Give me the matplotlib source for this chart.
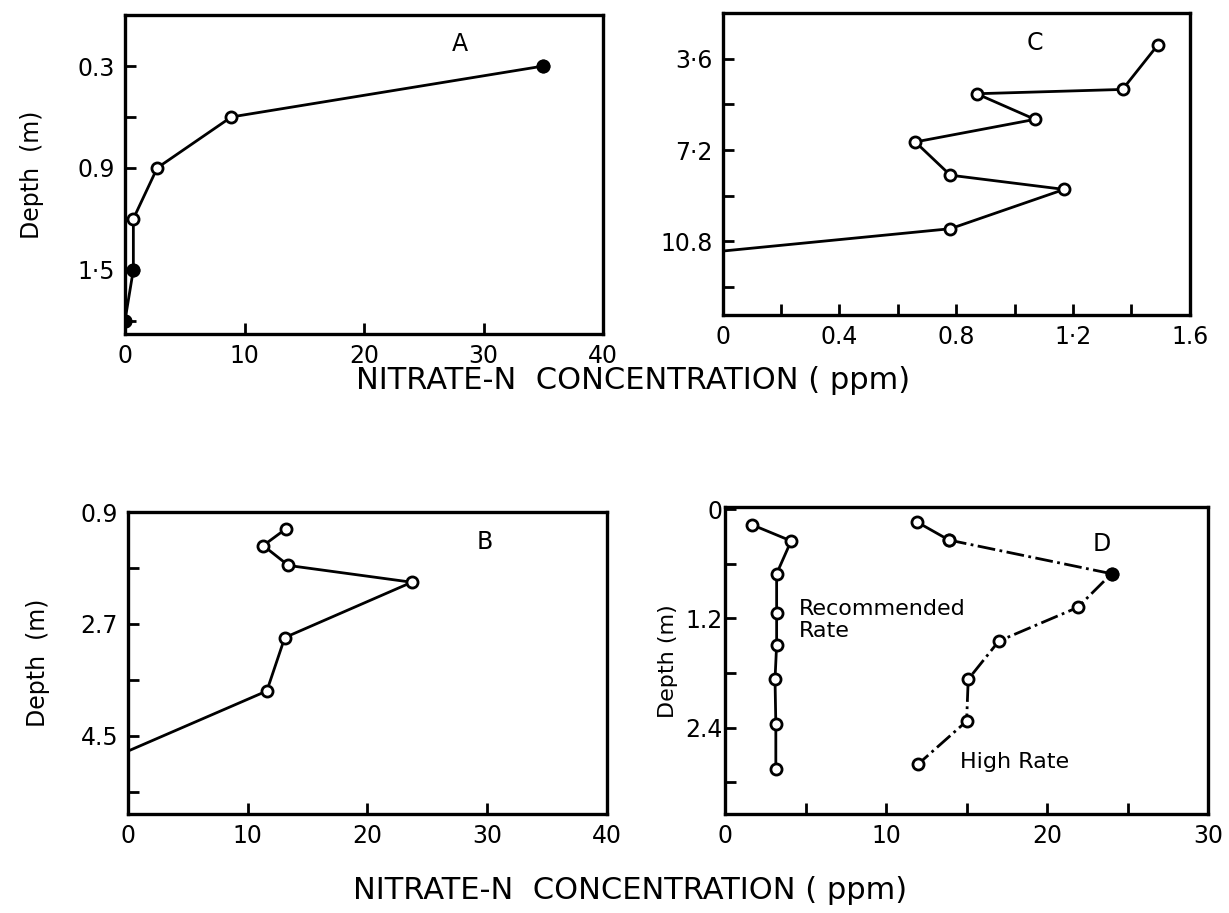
import matplotlib.pyplot as plt

# ---- data ----
# panel A
a_conc = [35.0, 8.9, 2.7, 0.7, 0.7, 0.0]
a_depth = [0.3, 0.6, 0.9, 1.2, 1.5, 1.8]
a_filled = [0, 4, 5]

# panel B (last point is where the line meets the axis, no marker)
b_conc = [13.2, 11.3, 13.4, 23.7, 13.1, 11.6, 0.1]
b_depth = [1.17, 1.44, 1.76, 2.03, 2.92, 3.78, 4.74]

# panel C
c_conc = [1.49, 1.37, 0.87, 1.07, 0.66, 0.78, 1.17, 0.78, 0.0]
c_depth = [3.07, 4.81, 4.98, 5.99, 6.88, 8.19, 8.75, 10.3, 11.18]

# panel D
rec_conc = [1.64, 4.1, 3.2, 3.2, 3.2, 3.1, 3.15, 3.15]
rec_depth = [0.17, 0.35, 0.71, 1.14, 1.49, 1.87, 2.36, 2.85]
high_conc = [11.9, 13.9, 24.0, 21.9, 17.0, 15.1, 15.0, 12.0]
high_depth = [0.14, 0.34, 0.71, 1.08, 1.45, 1.87, 2.33, 2.80]
high_filled = [2]

xlab = "NITRATE-N  CONCENTRATION ( ppm)"

plt.rcParams['font.family'] = ['DejaVu Sans']

fig = plt.figure(figsize=(12.29, 9.13), dpi=100)

axA = fig.add_axes([0.1017, 0.634, 0.389, 0.3494])
axC = fig.add_axes([0.588, 0.655, 0.380, 0.3307])
axB = fig.add_axes([0.104, 0.1084, 0.390, 0.3308])
axD = fig.add_axes([0.590, 0.1084, 0.393, 0.336])

line_kw = dict(color='black', lw=2.0, marker='o', ms=8, mfc='white', mec='black', mew=2.0)


def style(ax):
    for s in ax.spines.values():
        s.set_linewidth(2.4)
    ax.tick_params(direction='in', length=8, width=2, labelsize=17, pad=7,
                   top=False, right=False)


def filled(ax, xs, ys, idx):
    ax.plot([xs[i] for i in idx], [ys[i] for i in idx], 'o', color='black', ms=9, zorder=4)


# ---- A ----
axA.plot(a_conc, a_depth, **line_kw)
filled(axA, a_conc, a_depth, a_filled)
axA.set_xlim(0, 40)
axA.set_ylim(1.88, 0.0)
axA.set_xticks([0, 10, 20, 30, 40], ['0', '10', '20', '30', '40'])
axA.set_yticks([0.3, 0.6, 0.9, 1.2, 1.5, 1.8], ['0.3', '', '0.9', '', '1·5', ''])
axA.set_ylabel('Depth  (m)', fontsize=17, labelpad=24)
axA.text(28, 0.17, 'A', fontsize=17, ha='center', va='center')
style(axA)

# ---- C ----
axC.plot(c_conc, c_depth, markevery=list(range(len(c_conc) - 1)), **line_kw)
axC.set_xlim(0, 1.6)
axC.set_ylim(13.7, 1.8)
axC.set_xticks([0, 0.2, 0.4, 0.6, 0.8, 1.0, 1.2, 1.4, 1.6],
               ['0', '', '0.4', '', '0.8', '', '1·2', '', '1.6'])
axC.set_yticks([3.6, 5.4, 7.2, 9.0, 10.8, 12.6], ['3·6', '', '7·2', '', '10.8', ''])
axC.text(1.07, 2.97, 'C', fontsize=17, ha='center', va='center')
style(axC)

# ---- B ----
axB.plot(b_conc, b_depth, markevery=list(range(len(b_conc) - 1)), **line_kw)
axB.set_xlim(0, 40)
axB.set_ylim(5.76, 0.9)
axB.set_xticks([0, 10, 20, 30, 40], ['0', '10', '20', '30', '40'])
axB.set_yticks([0.9, 1.8, 2.7, 3.6, 4.5, 5.4], ['0.9', '', '2.7', '', '4.5', ''])
axB.set_ylabel('Depth  (m)', fontsize=17, labelpad=22)
axB.text(29.8, 1.38, 'B', fontsize=17, ha='center', va='center')
style(axB)

# ---- D ----
axD.plot(rec_conc, rec_depth, **line_kw)
axD.plot(high_conc[:2], high_depth[:2], **line_kw)
axD.plot(high_conc[1:], high_depth[1:], linestyle='-.', **line_kw)
filled(axD, high_conc, high_depth, high_filled)
axD.set_xlim(0, 30)
axD.set_ylim(3.35, -0.02)
axD.set_xticks([0, 5, 10, 15, 20, 25, 30], ['0', '', '10', '', '20', '', '30'])
axD.set_yticks([0, 0.6, 1.2, 1.8, 2.4, 3.0], ['0', '', '1.2', '', '2.4', ''])
axD.set_ylabel('Depth (m)', fontsize=16, labelpad=5)
axD.text(23.4, 0.38, 'D', fontsize=17, ha='center', va='center')
axD.text(4.6, 1.22, 'Recommended\nRate', fontsize=16, ha='left', va='center', linespacing=1.1)
axD.text(14.6, 2.78, 'High Rate', fontsize=16, ha='left', va='center')
style(axD)
axD.tick_params(axis='y', pad=2)

# shared x labels
fig.text(0.515, 0.583, xlab, fontsize=22, ha='center', va='center')
fig.text(0.513, 0.025, xlab, fontsize=22, ha='center', va='center')

fig.savefig('out.png', dpi=100)
